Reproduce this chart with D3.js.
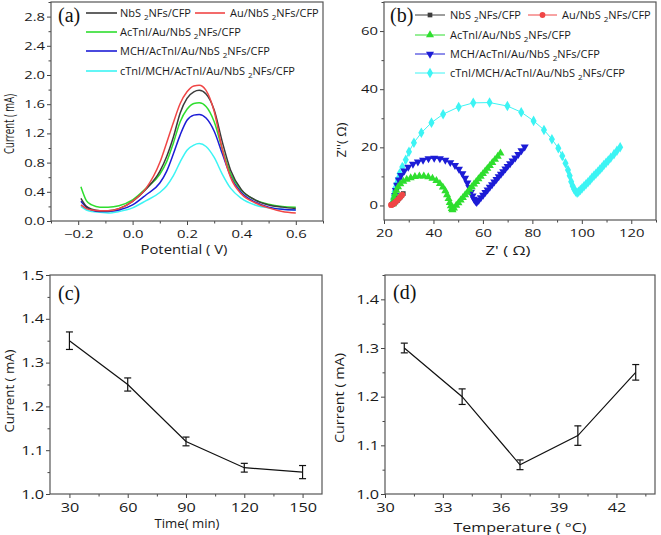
<!DOCTYPE html>
<html><head><meta charset="utf-8">
<script src="https://cdn.jsdelivr.net/npm/d3@7"></script>
<style>body{margin:0;background:#fff} svg{display:block}</style>
</head><body><svg id="c" width="661" height="535"></svg>
<script>
// ---------------- data (a) DPV ----------------
const potential = [-0.19,-0.17,-0.15,-0.12,-0.09,-0.05,0,0.05,0.1,0.125,0.15,0.175,0.2,0.225,0.245,0.27,0.3,0.33,0.36,0.4,0.45,0.5,0.55,0.6];
const dpvNbS2 = [0.31,0.20,0.16,0.14,0.14,0.17,0.27,0.44,0.68,0.88,1.15,1.48,1.68,1.77,1.79,1.74,1.52,1.08,0.70,0.43,0.29,0.22,0.19,0.17];
const dpvAu   = [0.22,0.17,0.15,0.14,0.14,0.17,0.27,0.45,0.80,1.07,1.35,1.61,1.77,1.85,1.86,1.79,1.50,0.98,0.60,0.37,0.25,0.18,0.13,0.11];
const dpvAcTnI= [0.47,0.28,0.22,0.19,0.19,0.21,0.29,0.45,0.64,0.81,1.07,1.36,1.53,1.61,1.62,1.57,1.36,0.98,0.65,0.42,0.29,0.23,0.20,0.19];
const dpvMCH  = [0.27,0.19,0.15,0.13,0.13,0.15,0.22,0.36,0.52,0.68,0.92,1.18,1.38,1.45,1.46,1.41,1.23,0.92,0.62,0.39,0.26,0.19,0.16,0.15];
const dpvCTnI = [0.20,0.15,0.13,0.12,0.11,0.13,0.18,0.28,0.39,0.48,0.62,0.81,0.97,1.04,1.06,1.02,0.87,0.64,0.45,0.31,0.22,0.18,0.16,0.15];
const seriesNames = ["NbS2NFs/CFP","Au/NbS2NFs/CFP","AcTnI/Au/NbS2NFs/CFP","MCH/AcTnI/Au/NbS2NFs/CFP","cTnI/MCH/AcTnI/Au/NbS2NFs/CFP"];

// ---------------- data (b) EIS [Z', Z''] ----------------
const eisNbS2 = [[23.0,0.2],[23.3,0.3],[23.7,0.5],[24.2,0.8],[24.8,1.2],[25.4,1.7],[26.0,2.3],[26.6,2.9],[27.2,3.5],[27.8,4.1]];
const eisAu = [[22.8,0.2],[23.1,0.2],[23.5,0.4],[24.0,0.7],[24.5,1.1],[25.0,1.5],[25.6,2.0],[26.2,2.6],[26.8,3.1],[27.4,3.7]];
const eisAcTnI = [[23.6,0.5],[23.8,1.6],[24.1,2.8],[24.5,4.0],[25.0,5.2],[25.7,6.4],[26.6,7.4],[27.8,8.3],[29.2,9.0],[30.8,9.5],[32.5,9.9],[34.3,10.1],[36.1,10.1],[37.9,9.8],[39.6,9.3],[41.2,8.5],[42.6,7.5],[43.8,6.3],[44.8,5.0],[45.5,3.6],[46.1,2.3],[46.6,1.0],[47.0,-0.2],[47.4,-1.1],[47.7,-1.5],
  [48.3,-0.9],[49.2,0.0],[50.1,0.9],[51.0,1.8],[51.9,2.7],[52.8,3.6],[53.7,4.5],[54.6,5.5],[55.5,6.4],[56.4,7.3],[57.3,8.2],[58.2,9.1],[59.1,10.0],[60.0,10.9],[60.9,11.8],[61.8,12.7],[62.8,13.7],[63.8,14.7],[64.9,15.8],[66.0,16.9],[67.1,18.0]];
const eisMCH = [[24.5,3.5],[24.8,5.2],[25.3,7.0],[26.0,8.8],[26.9,10.4],[28.2,11.9],[29.8,13.2],[31.7,14.2],[33.7,15.0],[35.8,15.6],[38.0,16.1],[40.3,16.3],[42.6,16.1],[44.8,15.6],[46.8,14.8],[48.7,13.8],[50.3,12.5],[51.7,11.0],[52.8,9.4],[53.7,7.8],[54.5,6.2],[55.2,4.6],[55.8,3.3],[56.4,2.2],[57.0,1.4],[57.5,1.1],
  [58.3,1.8],[59.2,2.7],[60.1,3.6],[61.0,4.5],[61.9,5.4],[62.8,6.3],[63.7,7.2],[64.6,8.1],[65.5,9.0],[66.4,9.9],[67.3,10.8],[68.2,11.7],[69.1,12.6],[70.0,13.5],[71.0,14.4],[72.0,15.4],[73.1,16.4],[74.3,17.6],[75.6,18.9],[76.9,20.2]];
const eisCTnI = [[23.6,1.4],[23.8,2.5],[24.0,3.6],[24.3,4.8],[24.6,6.0],[25.0,7.3],[25.6,9.0],[26.3,11.0],[27.4,13.2],[28.8,15.7],[30.1,18.5],[32.1,21.6],[35.1,25.0],[39.2,28.5],[43.9,31.4],[50.2,33.9],[56.1,35.3],[62.7,35.4],[69.9,34.2],[75.5,32.1],[80.5,29.1],[84.7,26.0],[87.9,22.8],[90.5,19.7],[92.1,17.0],[93.4,14.5],[94.4,12.2],[95.1,10.2],[95.7,8.2],[96.3,6.7],[96.9,5.6],[97.5,4.8],[98.1,4.4],
  [98.7,4.7],[99.4,5.3],[100.1,5.9],[100.9,6.6],[101.7,7.3],[102.5,8.0],[103.3,8.7],[104.1,9.5],[104.9,10.2],[105.7,10.9],[106.5,11.6],[107.3,12.4],[108.1,13.1],[108.9,13.9],[109.8,14.7],[110.7,15.5],[111.7,16.4],[113.0,17.6],[114.2,18.8],[115.5,20.0]];

// ---------------- data (c) time ----------------
const times = [30,60,90,120,150];
const currentTime = [1.35,1.25,1.12,1.06,1.05];
const errTime = [0.02,0.015,0.01,0.01,0.015];

// ---------------- data (d) temperature ----------------
const temps = [31,34,37,40,43];
const currentTemp = [1.30,1.20,1.06,1.12,1.25];
const errTemp = [0.01,0.016,0.01,0.02,0.016];

// ---------------- drawing ----------------
const svg = d3.select('#c');
const FONT = '"Open Sans", sans-serif';
const colors = ['#3c3c3c','#f04646','#2ede2e','#1c1cd6','#3cf4f4'];

function range(a,b,s){const r=[];for(let v=a;v<=b+1e-9;v+=s)r.push(+v.toFixed(4));return r;}

function styleAxis(s,o){
  s.select('.domain').remove();
  s.selectAll('.tick line').attr('stroke','#444').attr('stroke-width',1);
  s.selectAll('.tick text').attr('fill','#1a1a1a').style('font-family',FONT).style('font-size',o.fs+'px');
}
function panel(o){
  const x=d3.scaleLinear().domain(o.xd).range([o.l,o.r]);
  const y=d3.scaleLinear().domain(o.yd).range([o.b,o.t]);
  const g=svg.append('g');
  g.append('g').attr('transform',`translate(0,${o.b})`).call(d3.axisBottom(x).tickValues(o.xMinor).tickSize(2.5).tickFormat('')).call(s=>styleAxis(s,o));
  g.append('g').attr('transform',`translate(${o.l},0)`).call(d3.axisLeft(y).tickValues(o.yMinor).tickSize(2.5).tickFormat('')).call(s=>styleAxis(s,o));
  const xa=g.append('g').attr('transform',`translate(0,${o.b})`).call(d3.axisBottom(x).tickValues(o.xMajor).tickSize(4).tickPadding(o.xPad).tickFormat(o.xFmt)).call(s=>styleAxis(s,o));
  xa.selectAll('.tick text').attr('transform',`scale(${o.sx},1)`);
  const ya=g.append('g').attr('transform',`translate(${o.l},0)`).call(d3.axisLeft(y).tickValues(o.yMajor).tickSize(4).tickPadding(o.yPad).tickFormat(o.yFmt)).call(s=>styleAxis(s,o));
  ya.selectAll('.tick text').each(function(){const t=d3.select(this);t.attr('x',(+t.attr('x'))/o.sx).attr('transform',`scale(${o.sx},1)`);});
  g.append('rect').attr('x',o.l).attr('y',o.t).attr('width',o.r-o.l).attr('height',o.b-o.t).attr('fill','none').attr('stroke','#555').attr('stroke-width',1.2);
  return {x,y,g};
}
function title(txt,x,y,len,rot,fs){
  const t=svg.append('text').attr('x',x).attr('y',y).attr('text-anchor','middle').attr('dominant-baseline','central')
    .style('font-family',FONT).style('font-size',(fs||13)+'px').attr('fill','#1a1a1a')
    .attr('textLength',len).attr('lengthAdjust','spacingAndGlyphs').text(txt);
  if(rot) t.attr('transform',`rotate(-90,${x},${y})`);
}
function tag(txt,x,y){
  svg.append('text').attr('x',x).attr('y',y).style('font-family','"Liberation Serif", serif').style('font-size','20px').attr('fill','#111').text(txt);
}
function legendText(x,y,name){
  const t=svg.append('text').attr('x',x).attr('y',y).style('font-family',FONT).style('font-size','11px').attr('fill','#1a1a1a');
  const parts=name.split('NbS2');
  t.append('tspan').text(parts[0]+'NbS ');
  t.append('tspan').attr('dy',3).style('font-size','8px').text('2');
  t.append('tspan').attr('dy',-3).text(parts[1]);
}
const symbols=[d3.symbolSquare,d3.symbolCircle,d3.symbolTriangle,d3.symbolTriangle,d3.symbolDiamond];
const symSize=[22,26,28,28,32];
function marker(g,i,x,y){
  g.append('path').attr('d',d3.symbol().type(symbols[i]).size(symSize[i])())
    .attr('transform',`translate(${x},${y})`+(i===3?' rotate(180)':'')).attr('fill',colors[i]);
}

// ---- panel (a)
const A=panel({xd:[-0.3,0.7],yd:[0,3.0],l:51,r:323,t:2,b:221,
  xMajor:[-0.2,0,0.2,0.4,0.6],xMinor:[-0.3,-0.1,0.1,0.3,0.5,0.7],
  yMajor:range(0,2.8,0.4),yMinor:range(0.2,3.0,0.4),
  xFmt:d3.format('.1f'),yFmt:d3.format('.1f'),fs:11,sx:1.35,xPad:5,yPad:2});
const dpvAll=[dpvNbS2,dpvAu,dpvAcTnI,dpvMCH,dpvCTnI];
const lineA=d3.line().x((d,i)=>A.x(potential[i])).y(d=>A.y(d)).curve(d3.curveMonotoneX);
[4,3,2,0,1].forEach(i=>{
  A.g.append('path').attr('d',lineA(dpvAll[i])).attr('fill','none').attr('stroke',colors[i]).attr('stroke-width',1.5);
});
const legA=[[86,117,120,13],[195,225,230,13],[86,117,120,32],[86,117,120,51],[86,117,120,71]];
legA.forEach((p,i)=>{
  svg.append('line').attr('x1',p[0]).attr('x2',p[1]).attr('y1',p[3]).attr('y2',p[3]).attr('stroke',colors[i]).attr('stroke-width',1.6);
  legendText(p[2],p[3]+4,seriesNames[i]);
});
tag('(a)',58,22);
title('Potential (  V)',184,249,87,false);
title('Current ( mA)',8,124,60,true,14);

// ---- panel (b)
const B=panel({xd:[20,130],yd:[-5,70],l:384,r:656,t:2,b:220,
  xMajor:range(20,120,20),xMinor:range(30,130,20),
  yMajor:[0,20,40,60],yMinor:[10,30,50,70],
  xFmt:d3.format('d'),yFmt:d3.format('d'),fs:11,sx:1.35,xPad:5,yPad:2});
const eisAll=[eisNbS2,eisAu,eisAcTnI,eisMCH,eisCTnI];
const lineB=d3.line().x(d=>B.x(d[0])).y(d=>B.y(d[1]));
[4,3,2,0,1].forEach(i=>{
  B.g.append('path').attr('d',lineB(eisAll[i])).attr('fill','none').attr('stroke',colors[i]).attr('stroke-width',1);
  eisAll[i].forEach(d=>marker(B.g,i,B.x(d[0]),B.y(d[1])));
});
const legB=[[415,445,450,15],[528,557,562,15],[415,445,450,35],[415,445,450,54],[415,445,450,73]];
legB.forEach((p,i)=>{
  svg.append('line').attr('x1',p[0]).attr('x2',p[1]).attr('y1',p[3]).attr('y2',p[3]).attr('stroke',colors[i]).attr('stroke-width',1);
  marker(svg,i,(p[0]+p[1])/2,p[3]);
  legendText(p[2],p[3]+4,seriesNames[i]);
});
tag('(b)',390,22);
title("Z' (  Ω)",508,250,45,false);
title("Z''( Ω)",341,140,35,true);

// ---- panel (c)
const C=panel({xd:[20,160],yd:[1.0,1.5],l:50,r:322,t:275,b:494,
  xMajor:times,xMinor:[45,75,105,135],
  yMajor:range(1.0,1.5,0.1),yMinor:range(1.05,1.45,0.1),
  xFmt:d3.format('d'),yFmt:d3.format('.1f'),fs:12.5,sx:1.3,xPad:5,yPad:2});
function errPlot(P,xs,ys,es){
  P.g.append('path').attr('d',d3.line().x((d,i)=>P.x(xs[i])).y(d=>P.y(d))(ys)).attr('fill','none').attr('stroke','#111').attr('stroke-width',1.2);
  ys.forEach((v,i)=>{
    const cx=P.x(xs[i]),y1=P.y(v+es[i]),y2=P.y(v-es[i]);
    P.g.append('line').attr('x1',cx).attr('x2',cx).attr('y1',y1).attr('y2',y2).attr('stroke','#111').attr('stroke-width',1.2);
    [y1,y2].forEach(yy=>P.g.append('line').attr('x1',cx-3.5).attr('x2',cx+3.5).attr('y1',yy).attr('y2',yy).attr('stroke','#111').attr('stroke-width',1.2));
  });
}
errPlot(C,times,currentTime,errTime);
tag('(c)',58,300);
title('Time( min)',187,523,65,false);
title('Current ( mA)',9,391,83,true);

// ---- panel (d)
const D=panel({xd:[30,44],yd:[1.0,1.45],l:385,r:655,t:275,b:494,
  xMajor:range(30,42,3),xMinor:range(31.5,43.5,3),
  yMajor:range(1.0,1.4,0.1),yMinor:range(1.05,1.45,0.1),
  xFmt:d3.format('d'),yFmt:d3.format('.1f'),fs:12.5,sx:1.3,xPad:5,yPad:2});
errPlot(D,temps,currentTemp,errTemp);
tag('(d)',393,299);
title('Temperature ( °C)',520,527,133,false);
title('Current ( mA)',339,398,90,true);
</script></body></html>
